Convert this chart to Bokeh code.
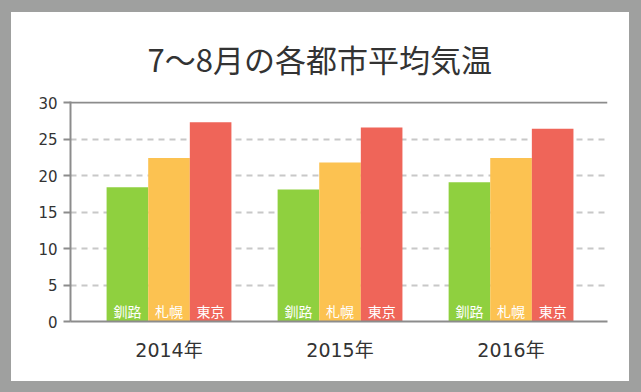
from bokeh.plotting import figure
from bokeh.models import Range1d, FixedTicker, Span
from bokeh.core.properties import value
from bokeh.embed import file_html
from bokeh.resources import INLINE

# ---- data ----
years = ["2014年", "2015年", "2016年"]
cities = ["釧路", "札幌", "東京"]
kushiro = [18.4, 18.1, 19.1]
sapporo = [22.4, 21.8, 22.4]
tokyo = [27.3, 26.6, 26.4]
series = [kushiro, sapporo, tokyo]
colors = ["#8fd03f", "#fcc251", "#ef6559"]
yticks = [0, 5, 10, 15, 20, 25, 30]

FONT = "Noto Sans CJK JP"
NUMFONT = "DejaVu Sans, Noto Sans CJK JP"
GRAY = "#8c8c8c"
TXT = "#333333"
BAR_W = 0.2433

p = figure(width=618, height=369, output_backend="svg", toolbar_location=None,
           x_range=Range1d(-0.576, 2.564), y_range=Range1d(0, 30.15),
           min_border_left=59, min_border_right=22, min_border_top=0,
           min_border_bottom=60, background_fill_color="white",
           border_fill_color="white")
p.margin = (12, 0, 0, 11)
p.styles = {"box-shadow": "0 0 0 14px #9fa09f"}
p.outline_line_color = None

p.title.text = "7〜8月の各都市平均気温"
p.title.align = "left"
p.title.offset = 77
p.title.text_font = FONT
p.title.text_font_size = "31px"
p.title.text_font_style = "normal"
p.title.text_color = TXT
p.title.standoff = 42

# bars
idx = list(range(len(years)))
for k, (vals, col, city) in enumerate(zip(series, colors, cities)):
    xs = [i + (k - 1) * BAR_W for i in idx]
    p.vbar(x=xs, top=vals, width=BAR_W, fill_color=col, line_color=None)
    p.text(x=xs, y=[0] * len(xs), text=[city] * len(xs), text_color="white",
           text_align="center", text_baseline="middle", y_offset=-11,
           text_font=value(FONT), text_font_size="14px")

# top solid line at 30
p.add_layout(Span(location=yticks[-1], dimension="width", line_color=GRAY,
                  line_width=2))

# grid
p.xgrid.visible = False
p.ygrid.ticker = FixedTicker(ticks=yticks[1:-1])
p.ygrid.grid_line_color = "#c8c8c8"
p.ygrid.grid_line_width = 2
p.ygrid.grid_line_dash = "6 5"

# y axis
p.yaxis.ticker = FixedTicker(ticks=yticks)
p.yaxis.axis_line_color = GRAY
p.yaxis.axis_line_width = 2
p.yaxis.major_tick_line_color = GRAY
p.yaxis.major_tick_line_width = 2
p.yaxis.major_tick_out = 7
p.yaxis.major_tick_in = 0
p.yaxis.minor_tick_line_color = None
p.yaxis.major_label_text_font = NUMFONT
p.yaxis.major_label_text_font_size = "15px"
p.yaxis.major_label_text_color = TXT
p.yaxis.major_label_standoff = 6

# x axis
p.xaxis.ticker = FixedTicker(ticks=idx)
p.xaxis.major_label_overrides = {i: y for i, y in zip(idx, years)}
p.xaxis.axis_line_color = GRAY
p.xaxis.axis_line_width = 2
p.xaxis.major_tick_line_color = None
p.xaxis.minor_tick_line_color = None
p.xaxis.major_tick_out = 0
p.xaxis.major_tick_in = 0
p.xaxis.major_label_text_font = NUMFONT
p.xaxis.major_label_text_font_size = "19px"
p.xaxis.major_label_text_color = TXT
p.xaxis.major_label_standoff = 17

open("out.html", "w").write(file_html(p, INLINE))
